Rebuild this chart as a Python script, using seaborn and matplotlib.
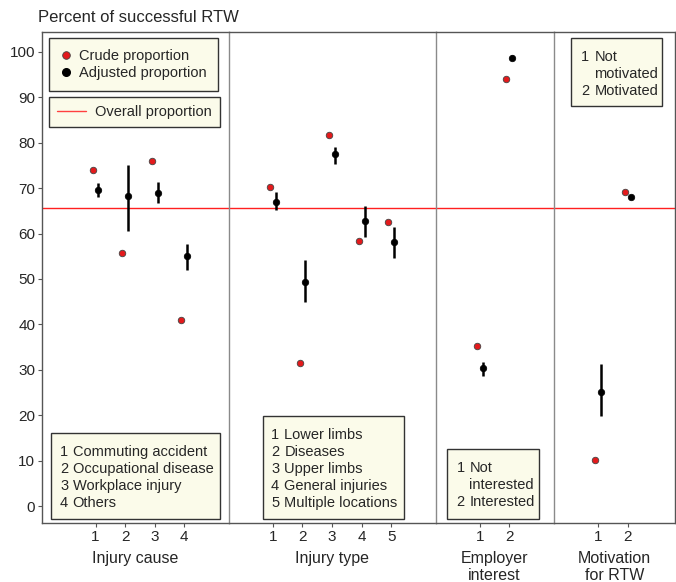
import numpy as np
import pandas as pd
import seaborn as sns
import matplotlib.pyplot as plt
from matplotlib.lines import Line2D
from matplotlib.patches import Rectangle

# values
panels = ['Injury cause', 'Injury type', 'Employer\ninterest', 'Motivation\nfor RTW']

cause_crude = [74.0, 55.7, 76.0, 41.0]
cause_adj = [69.5, 68.3, 69.0, 55.1]
cause_lo = [68.0, 60.6, 66.7, 52.0]
cause_hi = [71.1, 75.0, 71.3, 57.8]

type_crude = [70.3, 31.5, 81.6, 58.3, 62.6]
type_adj = [67.0, 49.3, 77.4, 62.8, 58.2]
type_lo = [65.2, 44.9, 75.3, 59.3, 54.7]
type_hi = [69.1, 54.1, 79.1, 66.1, 61.5]

empl_crude = [35.3, 94.1]
empl_adj = [30.3, 98.7]
empl_lo = [28.7, 98.2]
empl_hi = [31.8, 99.2]

motiv_crude = [10.1, 69.2]
motiv_adj = [25.2, 68.0]
motiv_lo = [19.9, 67.6]
motiv_hi = [31.3, 68.4]

overall = 65.6

cause_labels = ['Commuting accident', 'Occupational disease', 'Workplace injury', 'Others']
type_labels = ['Lower limbs', 'Diseases', 'Upper limbs', 'General injuries', 'Multiple locations']
empl_labels = [('1', 'Not'), ('', 'interested'), ('2', 'Interested')]
motiv_labels = [('1', 'Not'), ('', 'motivated'), ('2', 'Motivated')]

data = [
    (cause_crude, cause_adj, cause_lo, cause_hi),
    (type_crude, type_adj, type_lo, type_hi),
    (empl_crude, empl_adj, empl_lo, empl_hi),
    (motiv_crude, motiv_adj, motiv_lo, motiv_hi),
]

sns.set_style('white')
plt.rcParams['font.family'] = ['Liberation Sans', 'DejaVu Sans']
TXT = '#262626'
RED = '#E31A1C'
FW, FH = 676, 582

fig = plt.figure(figsize=(FW / 100, FH / 100), dpi=100)
gs = fig.add_gridspec(1, 4, width_ratios=[6.3, 7, 4, 4.1], wspace=0,
                      left=42.3 / FW, right=675 / FW,
                      bottom=1 - 523.3 / FH, top=1 - 32.3 / FH)

xlims = [(-0.8, 5.5), (-0.5, 6.5), (-0.5, 3.5), (-0.5, 3.6)]
axes = []
for i, (crude, adj, lo, hi) in enumerate(data):
    ax = fig.add_subplot(gs[0, i])
    axes.append(ax)
    cat = np.arange(1, len(crude) + 1)
    df = pd.DataFrame({'cat': cat, 'crude': crude, 'adj': adj, 'lo': lo, 'hi': hi})
    ax.axhline(overall, color='#FF2020', lw=1.0, zorder=1)
    ax.vlines(df['cat'] + 0.1, df['lo'], df['hi'], color='black', lw=1.8, zorder=2)
    sns.scatterplot(x=df['cat'] - 0.1, y=df['crude'], ax=ax, color=RED, s=22,
                    edgecolor='#444444', linewidth=0.6, zorder=3)
    sns.scatterplot(x=df['cat'] + 0.1, y=df['adj'], ax=ax, color='black', s=22,
                    edgecolor='black', linewidth=0.5, zorder=3)
    ax.set_xlim(*xlims[i])
    ax.set_ylim(-3.8, 104.3)
    ax.set_xticks(cat)
    ax.set_xticklabels([str(c) for c in cat])
    ax.set_xlabel(panels[i], fontsize=11.5, color=TXT, labelpad=5, linespacing=1.15)
    ax.set_ylabel('')
    ax.tick_params(axis='x', bottom=True, length=3, width=0.8, color='#555555',
                   labelsize=11, labelcolor=TXT, pad=2)
    if i == 0:
        ax.set_yticks(np.arange(0, 101, 10))
        ax.tick_params(axis='y', left=True, length=3, width=0.8, color='#555555',
                       labelsize=11, labelcolor=TXT, pad=2)
    else:
        ax.set_yticks([])
        ax.spines['left'].set_color('#8a8a8a')
    for s in ['top', 'bottom']:
        ax.spines[s].set_color('#555555')
    if i < 3:
        ax.spines['right'].set_visible(False)
    else:
        ax.spines['right'].set_color('#555555')
    for s in ax.spines.values():
        s.set_linewidth(1.0)
axes[0].spines['left'].set_color('#555555')

fig.text(38 / FW, 1 - 17 / FH, 'Percent of successful RTW', fontsize=12,
         color=TXT, ha='left', va='center')

# legends in the first panel
BG = '#FBFBEA'
h1 = [Line2D([], [], marker='o', ls='', color=RED, markeredgecolor='#444444',
             markeredgewidth=0.6, markersize=5.5, label='Crude proportion'),
      Line2D([], [], marker='o', ls='', color='black', markersize=5.5,
             label='Adjusted proportion')]
leg1 = axes[0].legend(handles=h1, loc='upper left', bbox_to_anchor=(7 / 187, 1 - 6 / 491),
                      borderaxespad=0, frameon=True, fancybox=False, fontsize=10.5,
                      handlelength=0.8, handletextpad=0.5, labelspacing=0.2,
                      borderpad=0.75, labelcolor=TXT)
leg1.get_frame().set_facecolor(BG)
leg1.get_frame().set_edgecolor('#333333')
leg1.get_frame().set_linewidth(1.0)
leg1.get_frame().set_alpha(1)
axes[0].add_artist(leg1)

h2 = [Line2D([], [], color='#FF4040', lw=1.0, label='Overall proportion')]
leg2 = axes[0].legend(handles=h2, loc='upper left', bbox_to_anchor=(7 / 187, 1 - 64.7 / 491),
                      borderaxespad=0, frameon=True, fancybox=False, fontsize=10.5,
                      handlelength=2.0, handletextpad=0.6, borderpad=0.55,
                      labelcolor=TXT)
leg2.get_frame().set_facecolor(BG)
leg2.get_frame().set_edgecolor('#333333')
leg2.get_frame().set_linewidth(1.0)
leg2.get_frame().set_alpha(1)


def keybox(x0, y0, x1, y1, lines, num_dx, lab_dx):
    # box given in figure pixels (top-left origin)
    fig.patches.append(Rectangle((x0 / FW, 1 - y1 / FH), (x1 - x0) / FW, (y1 - y0) / FH,
                                 transform=fig.transFigure, facecolor=BG,
                                 edgecolor='#333333', lw=1.0, zorder=5))
    for k, (num, lab) in enumerate(lines):
        yy = 1 - (y0 + 19 + 17 * k) / FH
        fig.text((x0 + num_dx) / FW, yy, num, fontsize=10.5, color=TXT,
                 ha='left', va='center', zorder=6)
        fig.text((x0 + num_dx + lab_dx) / FW, yy, lab, fontsize=10.5, color=TXT,
                 ha='left', va='center', zorder=6)


keybox(50.7, 433.3, 220, 518.7, [(str(k + 1), t) for k, t in enumerate(cause_labels)], 9.3, 12.7)
keybox(262.7, 416, 404, 518.7, [(str(k + 1), t) for k, t in enumerate(type_labels)], 8.3, 13.3)
keybox(447.3, 449.3, 539.3, 518.7, empl_labels, 9.4, 12.6)
keybox(571.3, 38, 662.3, 106, motiv_labels, 10, 13)

fig.savefig('out.png', dpi=100)
